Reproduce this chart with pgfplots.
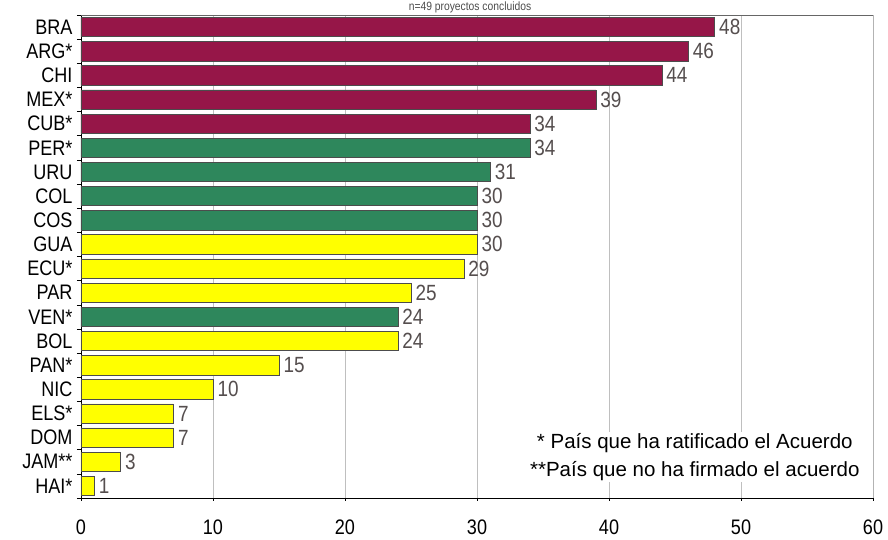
\documentclass[border=0pt]{standalone}
\usepackage{pgfplots}
\pgfplotsset{compat=1.18}
\usepackage{fontspec}
\setmainfont[FakeStretch=0.86]{Liberation Sans}
\newfontfamily\legfont{Liberation Sans}
\definecolor{maroon}{RGB}{150,22,72}
\definecolor{bgreen}{RGB}{46,135,92}
\definecolor{byellow}{RGB}{255,255,0}
\definecolor{vallab}{RGB}{85,78,78}
\begin{document}
\begin{tikzpicture}
\begin{axis}[
  xbar, scale only axis,
  width=792pt, height=483pt,
  xmin=0, xmax=60, ymin=0.5, ymax=20.5,
  xtick={0,10,...,60},
  xmajorgrids, grid style={color=black!25, line width=0.6pt},
  ytick={1,...,20},
  yticklabels={HAI*,JAM**,DOM,ELS*,NIC,PAN*,BOL,VEN*,PAR,ECU*,GUA,COS,COL,URU,PER*,CUB*,MEX*,CHI,ARG*,BRA},
  minor ytick={0.5,1.5,...,20.5},
  y tick style={draw=none},
  minor y tick style={draw=black, line width=0.5pt},
  tick align=outside,
  minor tick length=4pt,
  major tick length=3pt,
  x tick style={black},
  xticklabel style={yshift=-15pt, font=\fontsize{21}{21}\selectfont},
  yticklabel style={font=\fontsize{21}{21}\selectfont, xshift=-2pt},
  axis line style={black},
  axis x line*=bottom, axis y line*=left,
  bar width=0.8, bar shift=0pt,
  nodes near coords, point meta=x,
  every node near coord/.append style={font=\fontsize{22}{22}\selectfont, color=vallab, xshift=1pt},
  /pgf/number format/assume math mode=true,
]
\coordinate (bl) at (rel axis cs:0,0);
\coordinate (tr) at (rel axis cs:1,1);
\draw[black!60, line width=0.5pt] (rel axis cs:1,0) -- (rel axis cs:1,1) -- (rel axis cs:0,1);
\addplot[fill=maroon, draw=black!70, line width=0.6pt] coordinates {(48,20) (46,19) (44,18) (39,17) (34,16)};
\addplot[fill=bgreen, draw=black!70, line width=0.6pt] coordinates {(34,15) (31,14) (30,13) (30,12) (24,8)};
\addplot[fill=byellow, draw=black!70, line width=0.6pt] coordinates {(30,11) (29,10) (25,9) (24,7) (15,6) (10,5) (7,4) (7,3) (3,2) (1,1)};
\node[fill=white, inner xsep=3pt, inner ysep=1pt, align=center, font=\legfont\fontsize{20.5}{28}\selectfont, anchor=center] at (axis cs:46.5,2.2) {* País que ha ratificado el Acuerdo\\**País que no ha firmado el acuerdo};
\draw[black, line width=0.4pt] (rel axis cs:0,0) -- (rel axis cs:1,0);
\end{axis}
\node[font=\fontsize{12}{12}\selectfont, color=black!70] at ([xshift=389pt,yshift=7.5pt]tr -| bl) {n=49 proyectos concluidos};
\pgfresetboundingbox
\useasboundingbox ([xshift=-81pt,yshift=-42pt]bl) rectangle ([xshift=15pt,yshift=15pt]tr);
\end{tikzpicture}
\end{document}
